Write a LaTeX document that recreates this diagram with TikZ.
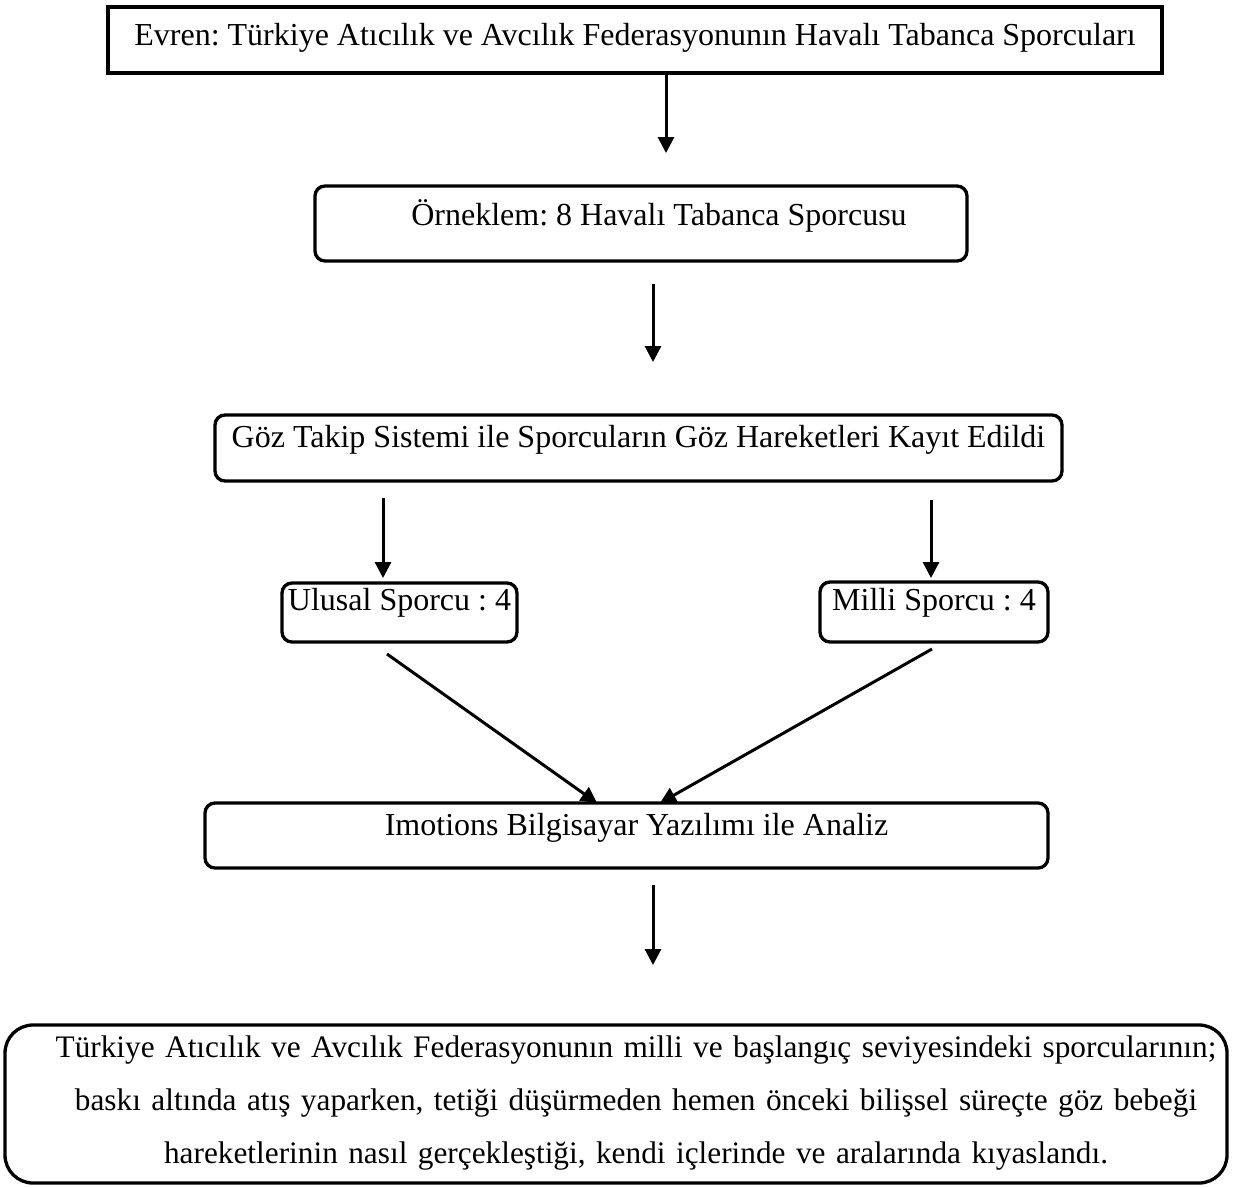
\documentclass[tikz,border=0pt]{standalone}
\usepackage{fontspec}
\setmainfont{Liberation Serif}
\usetikzlibrary{arrows.meta}
\begin{document}
\frenchspacing
\begin{tikzpicture}[x=1pt,y=-1pt,
  flowbox/.style={draw=black, line width=3.3pt, rounded corners=10pt, inner sep=0pt, outer sep=0pt, anchor=base, font=\fontsize{32}{38}\selectfont\frenchspacing},
  sqbox/.style={flowbox, sharp corners, line width=4pt},
  arr/.style={line width=3pt, -{Triangle[width=16pt,length=16pt]}}]
\useasboundingbox (0,0) rectangle (1233,1187);
\node[sqbox, minimum width=1054pt, text height=38pt, text depth=28pt] (b1) at (635,45)
  {Evren: Türkiye Atıcılık ve Avcılık Federasyonunın Havalı Tabanca Sporcuları};
\node[flowbox, minimum width=652pt, text height=39pt, text depth=36pt] (b2) at (641,225)
  {\hspace*{36pt}Örneklem: 8 Havalı Tabanca Sporcusu};
\node[flowbox, minimum width=847pt, text height=32pt, text depth=34pt] (b3) at (638.5,447)
  {Göz Takip Sistemi ile Sporcuların Göz Hareketleri Kayıt Edildi};
\node[flowbox, minimum width=235pt, text height=27pt, text depth=32pt] (b4) at (399.5,610)
  {Ulusal Sporcu : 4};
\node[flowbox, minimum width=228pt, text height=28pt, text depth=32pt] (b5) at (934,610)
  {Milli Sporcu : 4};
\node[flowbox, minimum width=843pt, text height=32pt, text depth=33pt] (b6) at (626.5,835)
  {\hspace*{20pt}Imotions Bilgisayar Yazılımı ile Analiz};
\node[flowbox, rounded corners=28pt, minimum width=1222pt, text width=1222pt, align=center,
  text height=32pt, text depth=126pt, font=\fontsize{31.3}{53}\selectfont\frenchspacing] (b7) at (616,1057)
  {\makebox[0pt]{\hspace*{40pt}Türkiye Atıcılık ve Avcılık Federasyonunın milli ve başlangıç seviyesindeki sporcularının;}\\
   \makebox[0pt]{\hspace*{40pt}baskı altında atış yaparken, tetiği düşürmeden hemen önceki bilişsel süreçte göz bebeği}\\
   \makebox[0pt]{\hspace*{40pt}hareketlerinin nasıl gerçekleştiği, kendi içlerinde ve aralarında kıyaslandı.}};
\draw[arr] ([xshift=31pt]b1.south) -- ([xshift=25pt,yshift=33pt]b2.north);
\draw[arr] ([xshift=12pt,yshift=-23pt]b2.south) -- ([xshift=14.5pt,yshift=53pt]b3.north);
\draw[arr] ([xshift=-255.5pt,yshift=-17pt]b3.south) -- ([xshift=-16.5pt,yshift=5pt]b4.north);
\draw[arr] ([xshift=292.5pt,yshift=-19pt]b3.south) -- ([xshift=-3pt,yshift=4pt]b5.north);
\draw[arr] ([xshift=-12.5pt,yshift=-12pt]b4.south) -- ([xshift=-29.5pt]b6.north);
\draw[arr] ([xshift=-2pt,yshift=-7pt]b5.south) -- ([xshift=33.5pt]b6.north);
\draw[arr] ([xshift=26.5pt,yshift=-17pt]b6.south) -- ([xshift=37pt,yshift=60pt]b7.north);
\end{tikzpicture}
\end{document}
